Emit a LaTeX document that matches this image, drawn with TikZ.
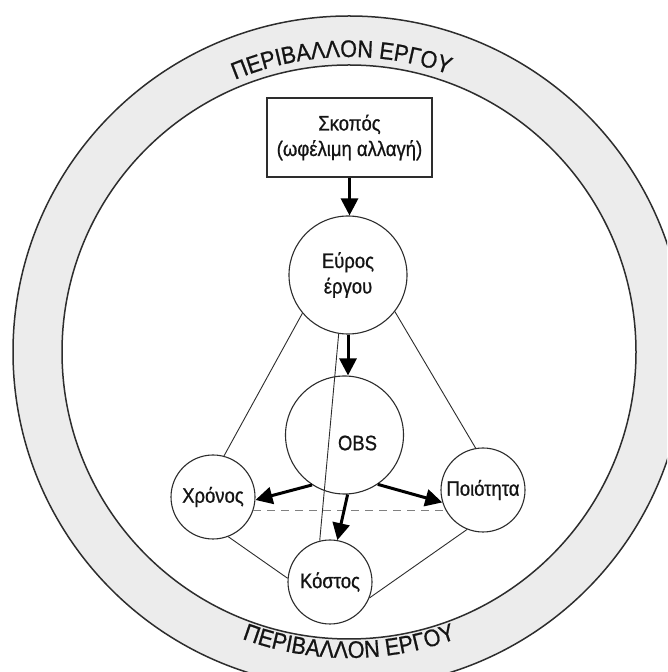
\documentclass[tikz,border=0pt]{standalone}
\usepackage{fontspec}
\setmainfont{Liberation Sans}
\newfontfamily\narrowsans[FakeStretch=0.88,FakeBold=0.8]{Liberation Sans}
\newfontfamily\ringsans[FakeStretch=0.9,FakeBold=0.8]{Liberation Sans}
\usetikzlibrary{arrows.meta,decorations.text}
\definecolor{ringgray}{RGB}{236,236,236}
\definecolor{inkline}{RGB}{45,45,45}
\definecolor{inktext}{RGB}{20,20,20}
\newcommand\ringfont{\ringsans\fontsize{24}{24}\selectfont}

\begin{document}
\begin{tikzpicture}[x=1pt,y=1pt,
  labelfont/.style={font=\narrowsans\fontsize{21}{25.5}\selectfont,text=inktext},
  bubble/.style={circle,draw=inkline,line width=1.1pt,fill=white,inner sep=0pt,align=center,labelfont},
  goalbox/.style={rectangle,draw=inkline,line width=1.1pt,fill=white,minimum width=165pt,minimum height=79pt,inner sep=0pt,align=center,labelfont},
  spoke/.style={draw=inkline,line width=0.9pt},
  flow/.style={draw=black,line width=3pt,-{Triangle[length=17pt,width=17pt]}},
  tie/.style={draw=gray,line width=1.2pt,dash pattern=on 8pt off 6pt},
  ringline/.style={draw=inkline,line width=1.5pt}
]
\useasboundingbox (0,0) rectangle (667,672);

% project environment ring
\coordinate (C) at (349,320);
\begin{scope}
  \clip (0,0) rectangle (667,672);
  \path[ringline,fill=ringgray] (C) circle[radius=336];
  \path[ringline,fill=white] (C) circle[radius=287];
\end{scope}

% ring captions
\coordinate (topstart) at ([shift={(131.5:295)}]C);
\coordinate (botstart) at ([shift={(230:306)}]C);
\path[decorate,decoration={text along path,text align=center,text color=inktext,
  text={|\ringfont|ΠΕΡΙΒΑΛΛΟΝ ΕΡΓΟΥ}}]
  (topstart) arc[start angle=131.5,end angle=51.5,radius=295];
\path[decorate,decoration={text along path,text align=center,text color=inktext,
  text={|\ringfont|ΠΕΡΙΒΑΛΛΟΝ ΕΡΓΟΥ}}]
  (botstart) arc[start angle=230,end angle=310,radius=306];

% nodes
\node[goalbox] (goal) at (349.5,534.5) {Σκοπός\\(ωφέλιμη αλλαγή)};
\node[bubble,minimum size=118pt] (scope) at (348,397) {Εύρος\\έργου};
\node[bubble,minimum size=118pt] (obs) at (344.5,237) {};
\node[labelfont] (obstext) at (357.5,229) {OBS};
\node[bubble,minimum size=84pt] (time) at (213,175) {Χρόνος};
\node[bubble,minimum size=84pt] (quality) at (483,182) {Ποιότητα};
\node[bubble,minimum size=84pt] (cost) at (330,90) {Κόστος};

% relation lines
\draw[spoke] (scope.220) -- (time.75);
\draw[spoke] (scope.322) -- (quality.100);
\draw[spoke] (time.291) -- (cost.175);
\draw[spoke] (quality.248) -- (cost.338);
\draw[spoke] (scope.261) -- (cost.104);
\draw[tie] (time.342) -- (time.342 -| quality.208);

% flow arrows
\draw[flow] (goal.south) -- (goal.south |- scope.north);
\draw[flow] (scope.south) -- (scope.south |- obs.north);
\draw[flow] (obs.237) -- (time.356);
\draw[flow] (obs.273) -- (cost.80);
\draw[flow] (obs.304) -- (quality.197);
\end{tikzpicture}
\end{document}
